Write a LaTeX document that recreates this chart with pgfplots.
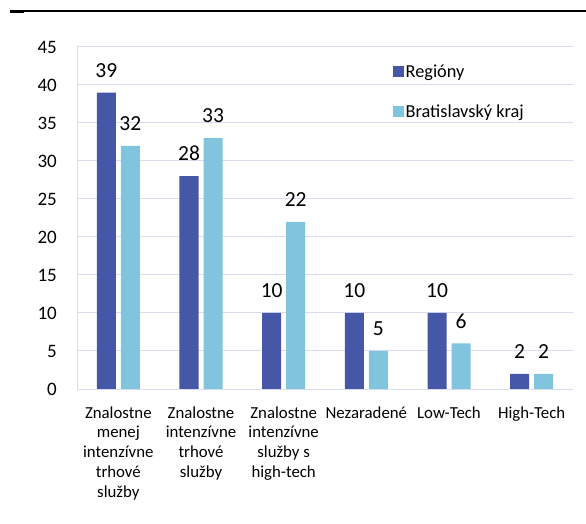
\documentclass[border=0pt]{standalone}
\usepackage{fontspec}
\setmainfont{Carlito}
\usepackage{pgfplots}
\pgfplotsset{compat=1.18}
\definecolor{dblue}{HTML}{4757A8}
\definecolor{lblue}{HTML}{80C4DD}
\definecolor{gridc}{HTML}{D9DCF3}
\begin{document}
\begin{tikzpicture}
\useasboundingbox (0,0) rectangle (586bp,524bp);
\draw[black, line width=1.2bp] (10bp,513bp) -- (586bp,513bp);
\draw[black, line width=2.2bp] (10bp,512.5bp) -- (24bp,512.5bp);
\begin{axis}[
  at={(77bp,135bp)}, anchor=south west,
  scale only axis, width=496bp, height=342bp,
  xmin=-0.5, xmax=5.5, ymin=0, ymax=45,
  ytick={0,5,...,45},
  xtick={0,...,5},
  xticklabels={{Znalostne\\menej\\intenzívne\\trhové\\služby},{Znalostne\\intenzívne\\trhové\\služby},{Znalostne\\intenzívne\\služby s\\high-tech},{Nezaradené},{Low-Tech},{High-Tech}},
  axis x line*=bottom, axis y line*=left,
  axis line style={gridc, line width=1bp, -},
  ymajorgrids, grid style={gridc, line width=1bp},
  tick style={draw=none},
  /pgf/number format/assume math mode=true,
  yticklabel style={font=\fontsize{19bp}{22bp}\selectfont, anchor=east, inner sep=0pt, xshift=-20bp},
  xticklabel style={font=\fontsize{16.8bp}{19.8bp}\selectfont, align=center, anchor=north, inner sep=0pt, yshift=-13bp},
  ybar, bar width=19bp,
  nodes near coords,
  every node near coord/.append style={font=\fontsize{21.5bp}{25bp}\selectfont, inner sep=0pt, anchor=south, yshift=15bp, black},
  legend cell align=left,
  legend style={at={(rel axis cs:0.636,0.955)}, anchor=north west, draw=none, fill=none, inner sep=0pt,
    font=\fontsize{18.3bp}{22bp}\selectfont, row sep=22bp,
    nodes={inner sep=2bp}},
  legend image code/.code={\fill[#1] (0bp,-5.5bp) rectangle (11bp,5.5bp);},
]
\addplot[fill=dblue, draw=none, bar shift=-12bp] coordinates {(0,39) (1,28) (2,10) (3,10) (4,10) (5,2)};
\addplot[fill=lblue, draw=none, bar shift=12bp] coordinates {(0,32) (1,33) (2,22) (3,5) (4,6) (5,2)};
\legend{Regióny, Bratislavský kraj}
\end{axis}
\end{tikzpicture}
\end{document}
